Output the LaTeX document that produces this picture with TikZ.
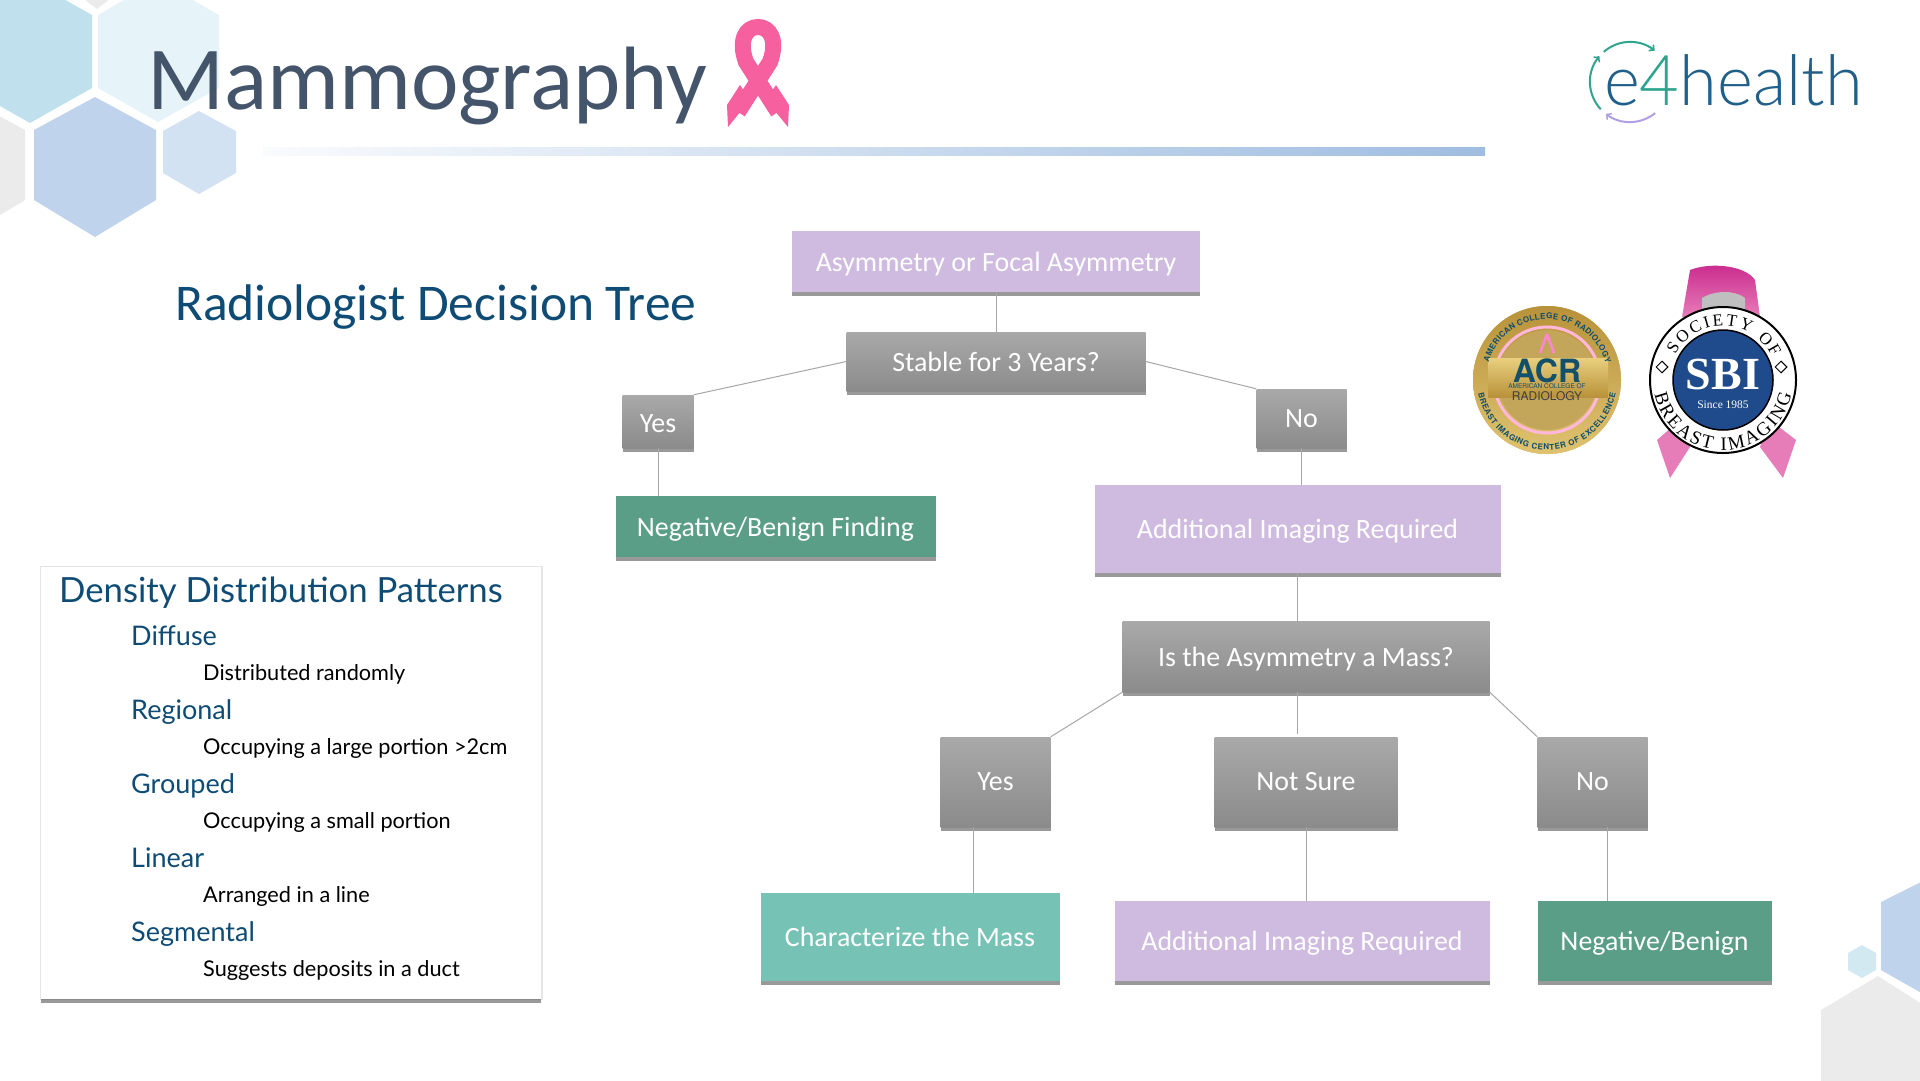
\documentclass[tikz,border=0pt]{standalone}
\usepackage{fontspec}
\setmainfont{Carlito}
\setsansfont{Lato}
\newfontfamily\serifbd{Liberation Serif}[BoldFont={Liberation Serif Bold}]
\newfontfamily\sansbd{TeX Gyre Heros}
\newfontfamily\logofont{Lato Light}[FakeStretch=0.98]
\usetikzlibrary{shapes,shapes.geometric,shadows,positioning,decorations.text,arrows}
\definecolor{lilac}{HTML}{CFBBDF}
\definecolor{grayt}{HTML}{A9A9A9}
\definecolor{grayb}{HTML}{8B8B8B}
\definecolor{benign}{HTML}{5A9E87}
\definecolor{charm}{HTML}{76C2B4}
\definecolor{titleink}{HTML}{44546A}
\definecolor{navy}{HTML}{0F4C75}
\definecolor{hexa}{HTML}{BFE0EC}
\definecolor{hexb}{HTML}{E6F3F8}
\definecolor{hexc}{HTML}{BFD3EC}
\definecolor{hexd}{HTML}{D2E2F3}
\definecolor{hexg}{HTML}{EBEBEB}
\definecolor{rulec}{HTML}{9FBDE0}
\definecolor{ribbon}{HTML}{F7609F}
\definecolor{logoblue}{HTML}{1F5F8A}
\definecolor{logogreen}{HTML}{2FA58F}
\definecolor{goldd}{HTML}{B8923A}
\definecolor{goldl}{HTML}{E9CF7E}
\definecolor{goldm}{HTML}{C4A65A}
\definecolor{acrink}{HTML}{12506B}
\definecolor{sbiblue}{HTML}{1F4A8C}
\definecolor{sbipink}{HTML}{E77DB8}
\definecolor{sbideep}{HTML}{C9288C}
\newcommand{\boxfont}{\fontsize{27.9}{32}\selectfont}
\newcommand{\acrcurve}{\sansbd\bfseries\fontsize{8}{9}\selectfont}
\newcommand{\sbicurve}{\serifbd\fontsize{17}{18}\selectfont}
\newcommand{\sbicurvelow}{\serifbd\fontsize{19}{20}\selectfont}
\tikzstyle{boxbase}=[rectangle,text=white,align=center,font=\boxfont,inner sep=0pt,drop shadow={shadow xshift=0pt,shadow yshift=-4pt,fill=black,opacity=.4}]
\tikzstyle{asked}=[boxbase,top color=grayt,bottom color=grayb]
\tikzstyle{imaging}=[boxbase,fill=lilac]
\tikzstyle{benignbox}=[boxbase,fill=benign]
\tikzstyle{charbox}=[boxbase,fill=charm]
\tikzstyle{lowtxt}=[text depth=0pt]
\tikzstyle{lnk}=[draw=black!35,line width=1pt]
\tikzstyle{headtxt}=[anchor=base west,inner sep=0pt,text=navy,font=\sffamily\fontsize{34.7}{37}\selectfont]
\tikzstyle{subtxt}=[anchor=base west,inner sep=0pt,text=navy,font=\sffamily\fontsize{27}{30}\selectfont]
\tikzstyle{desctxt}=[anchor=base west,inner sep=0pt,text=black,font=\sffamily\fontsize{21.7}{24}\selectfont]
\begin{document}
\begin{tikzpicture}[x=1pt,y=-1pt,node distance=100pt]
\useasboundingbox (0,0) rectangle (1920,1080);
% hexagons
\begin{scope}
\clip (0,0) rectangle (1920,1080);
\fill[hexa] (92,15) -- (92,88) -- (30,123) -- (-32,88) -- (-32,15) -- (30,-20) -- cycle;
\fill[hexb] (219,15) -- (219,88) -- (158,122) -- (98,88) -- (98,15) -- (158,-20) -- cycle;
\fill[hexc] (156,130) -- (156,200) -- (95,237) -- (34,200) -- (34,130) -- (95,97) -- cycle;
\fill[hexd] (236,131) -- (236,173) -- (199,194) -- (163,173) -- (163,131) -- (199,111) -- cycle;
\fill[hexg] (25,130) -- (25,200) -- (-36,237) -- (-36,97) -- cycle;
\fill[hexg] (79,-5) -- (97,9) -- (115,-5) -- cycle;
\fill[hexc] (1881,902) -- (1925,880) -- (1925,995) -- (1881,970) -- cycle;
\fill[hexa!70] (1862,945) -- (1876,953) -- (1876,970) -- (1862,978) -- (1848,970) -- (1848,953) -- cycle;
\fill[hexg] (1878,976) -- (1925,1006) -- (1925,1085) -- (1821,1085) -- (1821,1010) -- cycle;
\end{scope}
% header
\node[anchor=base west,inner sep=0pt,text=titleink,font=\fontsize{90}{93}\selectfont] (title) at (147,109) {Mammography};
\draw[ribbon,line width=16pt] (738,112) -- (770,62) .. controls (778,40) and (770,27) .. (758,27) .. controls (746,27) and (738,40) .. (746,62) -- (778,112);
\fill[ribbon] (727,105) -- (728,127) -- (750,100) -- (740,85) -- cycle;
\fill[ribbon] (789,105) -- (788,127) -- (766,100) -- (776,85) -- cycle;
\shade[left color=rulec!6,right color=rulec] (263,147) rectangle (1485,155);
\node[anchor=base west,inner sep=0pt,text=navy,font=\fontsize{51.5}{54}\selectfont] (sub) at (175,320) {Radiologist Decision Tree};
% logo
\node[anchor=base west,inner sep=0pt,text=logoblue,font=\logofont\fontsize{70}{72}\selectfont] (logo) at (1604,105) {e\textcolor{logogreen}{4}health};
\draw[logogreen,line width=2pt,->] (1630,82) ++(-131:40) arc (-131:-52:40);
\draw[logogreen,line width=2pt,<-] (1630,82) ++(-140:40) arc (-140:-223:40);
\draw[lilac!85!blue,line width=2pt,->] (1630,82) ++(51:40) arc (51:127:40);
% decision tree
\node[imaging,lowtxt,minimum width=408pt,minimum height=61pt] (asym) at (996,261.5) {Asymmetry or Focal Asymmetry};
\node[asked,minimum width=299pt,minimum height=59pt,below of=asym] (stable) {Stable for 3 Years?};
\node[asked,text height=23pt,minimum width=71pt,minimum height=53pt,below of=stable,xshift=-338pt,yshift=40pt] (yesa) {Yes};
\node[asked,minimum width=90pt,minimum height=59pt,below of=stable,xshift=305.5pt,yshift=43pt] (noa) {No};
\node[benignbox,lowtxt,minimum width=320pt,minimum height=61pt,below of=yesa,xshift=117.5pt,yshift=-5pt] (negf) {Negative/Benign Finding};
\node[imaging,lowtxt,minimum width=406pt,minimum height=88pt,below of=noa,xshift=-4pt,yshift=-10.5pt] (adda) {Additional Imaging Required};
\node[asked,lowtxt,minimum width=367pt,minimum height=71pt,below of=adda,xshift=8.5pt,yshift=-27.5pt] (isas) {Is the Asymmetry a Mass?};
\node[asked,minimum width=110pt,minimum height=90pt,below of=isas,xshift=-310.5pt,yshift=-25.5pt] (yesb) {Yes};
\node[asked,minimum width=183pt,minimum height=90pt,below of=isas,yshift=-25.5pt] (notb) {Not Sure};
\node[asked,minimum width=110pt,minimum height=90pt,below of=isas,xshift=286.5pt,yshift=-25.5pt] (nob) {No};
\node[charbox,minimum width=299pt,minimum height=88pt,below of=yesb,xshift=-85.5pt,yshift=-55pt] (chm) {Characterize the Mass};
\node[imaging,lowtxt,minimum width=375pt,minimum height=80pt,below of=notb,xshift=-4pt,yshift=-59pt] (addb) {Additional Imaging Required};
\node[benignbox,lowtxt,minimum width=234pt,minimum height=80pt,below of=nob,xshift=62pt,yshift=-59pt] (negb) {Negative/Benign};
\draw[lnk] (asym) -- (stable);
\draw[lnk] (stable.west) -- (yesa.north east);
\draw[lnk] (stable.east) -- (noa.north west);
\draw[lnk] (yesa) -- (yesa |- negf.north);
\draw[lnk] (noa) -- (noa |- adda.north);
\draw[lnk] (adda) -- (adda |- isas.north);
\draw[lnk] (isas.south west) -- (yesb.north east);
\draw[lnk] (adda |- isas.south) -- ([yshift=3pt]adda |- notb.north);
\draw[lnk] (isas.south east) -- (nob.north west);
\draw[lnk] (yesb.south -| chm.north east) ++(-86,0) -- ++(0,66);
\draw[lnk] (notb) -- (notb |- addb.north);
\draw[lnk] (nob.south) ++(15,0) -- ++(0,74);
% density panel
\node[rectangle,fill=white,minimum width=500pt,minimum height=432pt,inner sep=0pt,general shadow={shadow scale=1.006,fill=black!10},drop shadow={shadow xshift=0pt,shadow yshift=-4pt,fill=black,opacity=.4}] (panel) at (291,783) {};
\node[headtxt] (dens) at (59,602) {Density Distribution Patterns};
\node[subtxt] (dif) at (131,645) {Diffuse};
\node[desctxt] (difd) at (203,680) {Distributed randomly};
\node[subtxt] (reg) at (131,719) {Regional};
\node[desctxt] (regd) at (203,754) {Occupying a large portion >2cm};
\node[subtxt] (gro) at (131,793) {Grouped};
\node[desctxt] (grod) at (203,828) {Occupying a small portion};
\node[subtxt] (lin) at (131,867) {Linear};
\node[desctxt] (lind) at (203,902) {Arranged in a line};
\node[subtxt] (seg) at (131,941) {Segmental};
\node[desctxt] (segd) at (203,976) {Suggests deposits in a duct};
% ACR seal
\fill[goldm,top color=goldd,bottom color=goldl!80!goldd] (1547,380) circle (74);
\fill[goldm] (1547,380) circle (50);
\draw[pink!80!magenta!70,line width=3pt] (1547,380) circle (53);
\shade[top color=goldl,bottom color=goldd] (1488,358) rectangle (1608,397);
\draw[pink!70!magenta,line width=2.5pt] (1547,334) -- (1540,353) (1547,334) -- (1554,353);
\node[inner sep=0pt,text=acrink,font=\sansbd\bfseries\fontsize{32}{32}\selectfont] (acr) at (1547,371) {ACR};
\node[inner sep=0pt,text=acrink,font=\sansbd\fontsize{6.5}{7}\selectfont] (acra) at (1547,386) {AMERICAN COLLEGE OF};
\node[inner sep=0pt,text=black!75,font=\sansbd\fontsize{12}{12}\selectfont] (acrb) at (1547,396) {RADIOLOGY};
\path[decorate,decoration={text along path,text align={fit to path},text color=acrink,text={|\acrcurve|AMERICAN COLLEGE OF RADIOLOGY}}] (1547,380) ++(-163:61) arc (-163:-16:61);
\path[decorate,decoration={text along path,text align={fit to path},text color=acrink,text={|\acrcurve|BREAST IMAGING CENTER OF EXCELLENCE}}] (1547,380) ++(169:70) arc (169:11:70);
% SBI seal
\shade[top color=sbideep,bottom color=sbipink] (1682,317) -- (1690,270) .. controls (1710,262) and (1745,265) .. (1755,280) -- (1760,317) -- cycle;
\fill[black!25] (1702,298) .. controls (1715,290) and (1735,290) .. (1745,298) -- (1745,320) -- (1702,320) -- cycle;
\fill[sbipink] (1657,440) -- (1670,478) -- (1690,447) -- (1680,420) -- cycle;
\fill[sbipink] (1760,447) -- (1783,478) -- (1796,440) -- (1770,420) -- cycle;
\draw[black,fill=white,line width=2pt] (1723,380) circle (73);
\draw[black,line width=1.5pt,fill=sbiblue] (1723,380) circle (50);
\node[inner sep=0pt,text=white,font=\serifbd\bfseries\fontsize{46}{46}\selectfont] (sbi) at (1723,374) {SBI};
\node[inner sep=0pt,text=white,font=\serifbd\fontsize{11.5}{12}\selectfont] (since) at (1723,405) {Since 1985};
\node[diamond,draw=black,line width=1pt,inner sep=0pt,minimum size=12pt] (dmda) at (1662,367) {};
\node[diamond,draw=black,line width=1pt,inner sep=0pt,minimum size=12pt] (dmdb) at (1781,367) {};
\path[decorate,decoration={text along path,text align={fit to path},text color=black,text={|\sbicurve|SOCIETY OF}}] (1723,380) ++(-152:54) arc (-152:-25:54);
\path[decorate,decoration={text along path,text align={fit to path},text color=black,text={|\sbicurvelow|BREAST IMAGING}}] (1723,380) ++(168:70) arc (168:12:70);
\end{tikzpicture}
\end{document}
